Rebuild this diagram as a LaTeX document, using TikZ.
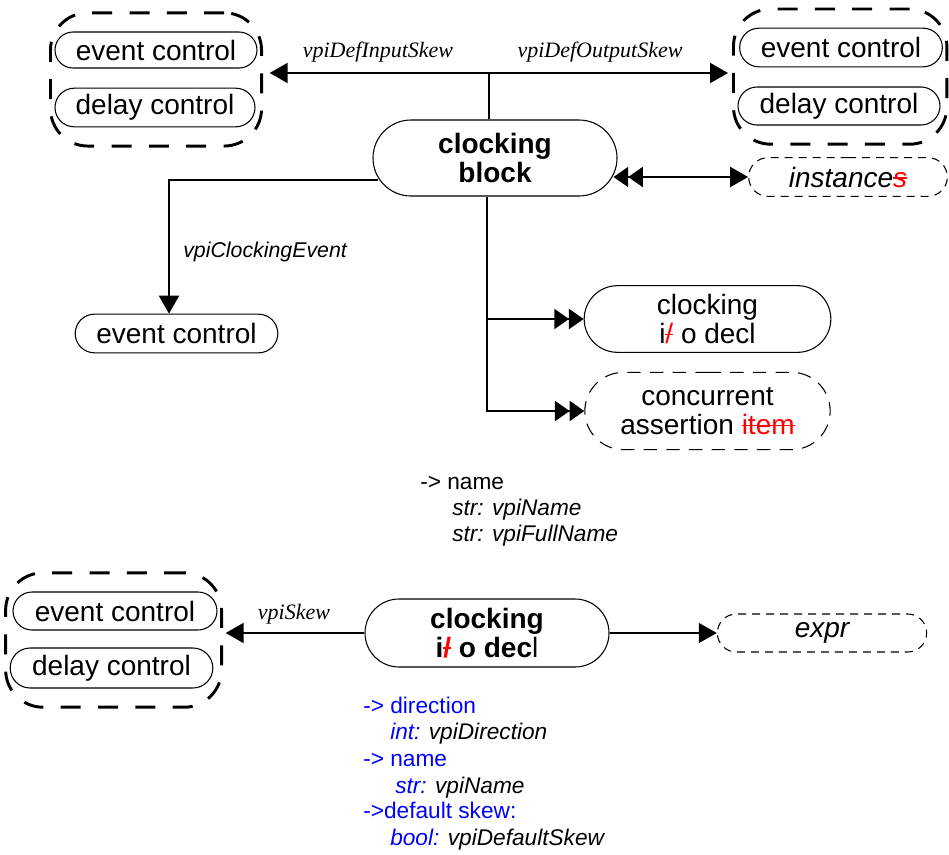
\documentclass[tikz,border=0pt]{standalone}
\usepackage{fontspec}
\setmainfont{Liberation Sans}
\newfontfamily\tmsfont{Liberation Serif}
\usepackage{xcolor}
\usetikzlibrary{arrows.meta,fit,shapes.misc}
\newcommand\strk[1]{\setbox0\hbox{#1}\rlap{\rule[0.3em]{\wd0}{0.06em}}\box0}

\begin{document}
\begin{tikzpicture}[x=0.75pt,y=-0.75pt,
  tri/.tip={Triangle[length=13.5pt,width=15pt]},
  dtri/.tip={Triangle[length=11pt,width=15pt]},
  pill/.style={rounded rectangle, draw, line width=0.8pt, inner sep=0pt,
    align=center, font=\fontsize{21}{22}\selectfont},
  dashpill/.style={pill, dash pattern=on 6pt off 4.5pt},
  group/.style={draw, rounded corners=28pt, line width=2.2pt,
    dash pattern=on 15pt off 13pt, inner xsep=3pt, inner ysep=14pt},
  conn/.style={line width=1.5pt},
  thinconn/.style={line width=0.8pt},
  skewlbl/.style={anchor=base, inner sep=0pt, font=\tmsfont\itshape\fontsize{16.5}{19}\selectfont},
  attr/.style={anchor=base west, inner sep=0pt, font=\fontsize{17}{20}\selectfont}]
  \useasboundingbox (0,0) rectangle (949,854);

  % controls for the default input skew
  \node[pill, minimum width=151.5pt, minimum height=27pt] (tlEvent) at (156,50) {event control};
  \node[pill, minimum width=150pt, minimum height=29pt] (tlDelay) at (155,107.5) {delay control};
  \node[group, fit=(tlEvent)(tlDelay)] (tlGroup) {};
  % controls for the default output skew
  \node[pill, minimum width=152pt, minimum height=29pt] (trEvent) at (841,47.5) {event control};
  \node[pill, minimum width=151.5pt, minimum height=28.5pt] (trDelay) at (839,106) {delay control};
  \node[group, fit=(trEvent)(trDelay)] (trGroup) {};

  % the clocking block itself
  \node[pill, minimum width=183pt, minimum height=57pt, font=\bfseries\fontsize{21}{22}\selectfont] (block) at (495,158) {clocking\\block};
  \node[dashpill, minimum width=149pt, minimum height=29pt] (inst) at (848,177) {\itshape instance{\color{red}\strk{s}}};
  \node[pill, minimum width=185pt, minimum height=50pt] (ioDecl) at (707.5,319) {clocking\\i{\color{red}\strk{/}} o decl};
  \node[pill, minimum width=184pt, minimum height=58pt, dash pattern=on 10pt off 7pt] (assert) at (707.5,411) {concurrent\\assertion {\color{red}\strk{item}}};
  \node[pill, minimum width=152pt, minimum height=29pt] (evc) at (176.5,333.5) {event control};

  % skew edges
  \coordinate (skewj) at (489,73);
  \draw[conn] (block.north -| skewj) -- (skewj);
  \draw[conn, -{tri[]}, shorten >=5pt] (skewj) -- (tlGroup.east |- skewj);
  \draw[conn, -{tri[]}, shorten >=3pt] (skewj) -- (trGroup.west |- skewj);
  \node[skewlbl] (inSkew) at (378,57) {vpiDefInputSkew};
  \node[skewlbl] (outSkew) at (600,57) {vpiDefOutputSkew};

  % instances
  \draw[conn, {dtri[]dtri[]}-{tri[]}, shorten <=-3pt] (block.east |- inst.west) -- (inst.west);

  % clocking event
  \coordinate (evj) at (169,180);
  \draw[conn, -{tri[]}, shorten <=-4.3pt] (block.west |- evj) -- (evj) -- (evj |- evc.north);
  \node[anchor=base west, inner sep=0pt, font=\itshape\fontsize{16}{19}\selectfont] (evLbl) at (183,257) {vpiClockingEvent};

  % io decls and assertion items
  \coordinate (spine) at (487,198);
  \draw[conn, -{dtri[]dtri[]}] (block.south -| spine) |- (ioDecl.west);
  \draw[conn, -{dtri[]dtri[]}] (block.south -| spine) |- (assert.west);

  % properties of the clocking block
  \node[attr] (nmA) at (420,489) {-> name};
  \node[attr] (nmB) at (452,515) {\itshape str: vpiName};
  \node[attr] (nmC) at (452,541) {\itshape str: vpiFullName};

  % the clocking i/o decl
  \node[pill, minimum width=183pt, minimum height=51pt, font=\bfseries\fontsize{21}{22}\selectfont] (decl) at (487,633) {clocking\\i{\color{red}\strk{/}} o dec\mdseries l};
  \node[dashpill, minimum width=157pt, minimum height=28.5pt] (expr) at (822,633) {\itshape expr};
  \node[pill, minimum width=153pt, minimum height=28.5pt] (blEvent) at (115,611) {event control};
  \node[pill, minimum width=152pt, minimum height=30pt] (blDelay) at (111.5,668) {delay control};
  \node[group, fit=(blEvent)(blDelay)] (blGroup) {};
  \draw[conn, -{tri[]}, shorten >=2pt] (decl.west) -- (blGroup.east |- decl.west);
  \draw[thinconn, -{tri[]}] (decl.east) -- (expr.west);
  \node[skewlbl] (skewLbl) at (294,619) {vpiSkew};

  % properties of the i/o decl
  \node[attr, blue] (dirA) at (363,713) {-> direction};
  \node[attr] (dirB) at (390,739) {\itshape{\color{blue}int:} vpiDirection};
  \node[attr, blue] (dnA) at (363,766) {-> name};
  \node[attr] (dnB) at (395,793) {\itshape{\color{blue}str:} vpiName};
  \node[attr, blue] (dsA) at (363,818) {->default skew:};
  \node[attr] (dsB) at (390,845) {\itshape{\color{blue}bool:} vpiDefaultSkew};
\end{tikzpicture}
\end{document}
